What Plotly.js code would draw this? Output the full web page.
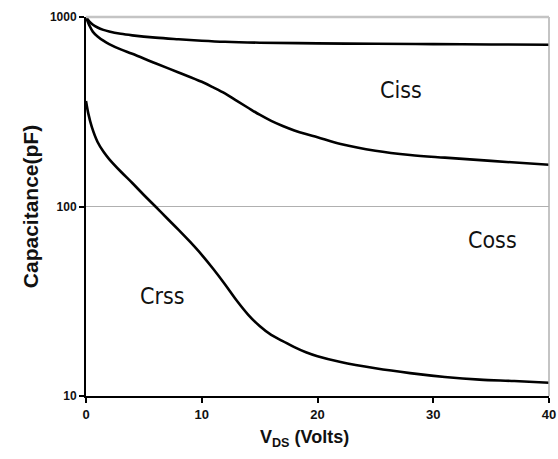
<!DOCTYPE html>
<html>
<head>
<meta charset="utf-8">
<script src="https://cdn.plot.ly/plotly-3.0.1.min.js"></script>
<style>html,body{margin:0;padding:0;background:#fff;}#chart{width:558px;height:459px;}</style>
</head>
<body>
<div id="chart"></div>
<script>
// Ciss
const cissV = [0, 0.3, 0.6, 1, 1.5, 2, 3, 4, 6, 8, 10, 12, 15, 20, 25, 30, 35, 40];
const cissC = [1000, 945, 910, 880, 855, 838, 815, 800, 778, 763, 750, 740, 732, 726, 722, 719, 716, 714];
// Coss
const cossV = [0, 0.3, 0.6, 1, 1.5, 2, 3, 4, 6, 8, 10, 11, 12, 13, 14, 15, 16, 17, 18, 19, 20, 22, 25, 28, 31, 35, 40];
const cossC = [1000, 900, 835, 790, 750, 720, 675, 640, 570, 510, 455, 425, 395, 362, 332, 305, 283, 266, 252, 241, 232, 214, 197, 187, 181, 174, 166];
// Crss
const crssV = [0, 0.2, 0.5, 1, 1.5, 2, 3, 4, 5, 6, 7, 8, 9, 10, 11, 12, 13, 14, 15, 16, 17, 18, 19, 20, 22, 25, 28, 31, 34, 37, 40];
const crssC = [360, 309, 263, 219, 195, 178, 153, 133, 115, 100, 86.7, 75.3, 65, 55.6, 46.8, 38.9, 32, 26.9, 23.4, 21.0, 19.5, 18.1, 17.0, 16.2, 15.1, 14.0, 13.2, 12.6, 12.2, 12.0, 11.75];
// labels
const curveNames = ["Ciss", "Coss", "Crss"];
const labelV = [27.2, 35.1, 6.65];
const labelC = [412, 66.5, 33.7];
const xTicks = [0, 10, 20, 30, 40];
const yTicks = [10, 100, 1000];
const yTickText = ["10", "100", "1000"];
const xTitle = "<b>V<sub>DS</sub> (Volts)</b>";
const yTitle = "<b>Capacitance(pF)</b>";

const lineStyle = {color: "#000", width: 2.6, shape: "spline", smoothing: 1};
const traces = [
  {x: cissV, y: cissC, mode: "lines", line: lineStyle, hoverinfo: "skip"},
  {x: cossV, y: cossC, mode: "lines", line: lineStyle, hoverinfo: "skip"},
  {x: crssV, y: crssC, mode: "lines", line: lineStyle, hoverinfo: "skip"}
];

const labelFont = {family: "Liberation Sans Narrow, DejaVu Sans Condensed, sans-serif", size: 23, color: "#111"};
const annotations = curveNames.map((n, i) => ({
  x: labelV[i], y: Math.log10(labelC[i]), xref: "x", yref: "y",
  text: n, showarrow: false, font: labelFont
}));
annotations.push({
  x: 0.473, y: -0.111, xref: "paper", yref: "paper", xanchor: "center", yanchor: "middle",
  text: xTitle, showarrow: false, font: {size: 18, family: "Liberation Sans, Arial, sans-serif", color: "#111"}
});

const layout = {
  width: 558, height: 459,
  margin: {l: 86, r: 9, t: 17, b: 63},
  paper_bgcolor: "#fff", plot_bgcolor: "#fff",
  showlegend: false,
  font: {family: "Liberation Sans, Arial, sans-serif", color: "#111"},
  xaxis: {
    range: [0, 40], tickvals: xTicks, ticktext: xTicks.map(String),
    showgrid: false, zeroline: false,
    showline: true, linecolor: "#000", linewidth: 2,
    ticks: "outside", ticklen: 5, tickwidth: 2, tickcolor: "#000",
    tickfont: {size: 13, family: "Liberation Sans, Arial, sans-serif", weight: "bold"}
  },
  yaxis: {
    type: "log", range: [1, 3], tickvals: yTicks, ticktext: yTickText,
    showgrid: true, gridcolor: "#b0b0b0", gridwidth: 1.5,
    zeroline: false,
    showline: true, linecolor: "#000", linewidth: 2,
    ticks: "outside", ticklen: 5, tickwidth: 2, tickcolor: "#000",
    tickfont: {size: 12, family: "Liberation Sans, Arial, sans-serif", weight: "bold"},
    title: {text: yTitle, font: {size: 21}, standoff: 6}
  },
  shapes: [
    {type: "line", xref: "paper", yref: "paper", x0: 1, x1: 1, y0: 0, y1: 1, line: {color: "#b0b0b0", width: 1.5}},
    {type: "line", xref: "paper", yref: "paper", x0: 0, x1: 1, y0: 1, y1: 1, line: {color: "#c4c4c4", width: 2.5}}
  ],
  annotations: annotations
};

Plotly.newPlot("chart", traces, layout, {staticPlot: true, displayModeBar: false});
</script>
</body>
</html>
